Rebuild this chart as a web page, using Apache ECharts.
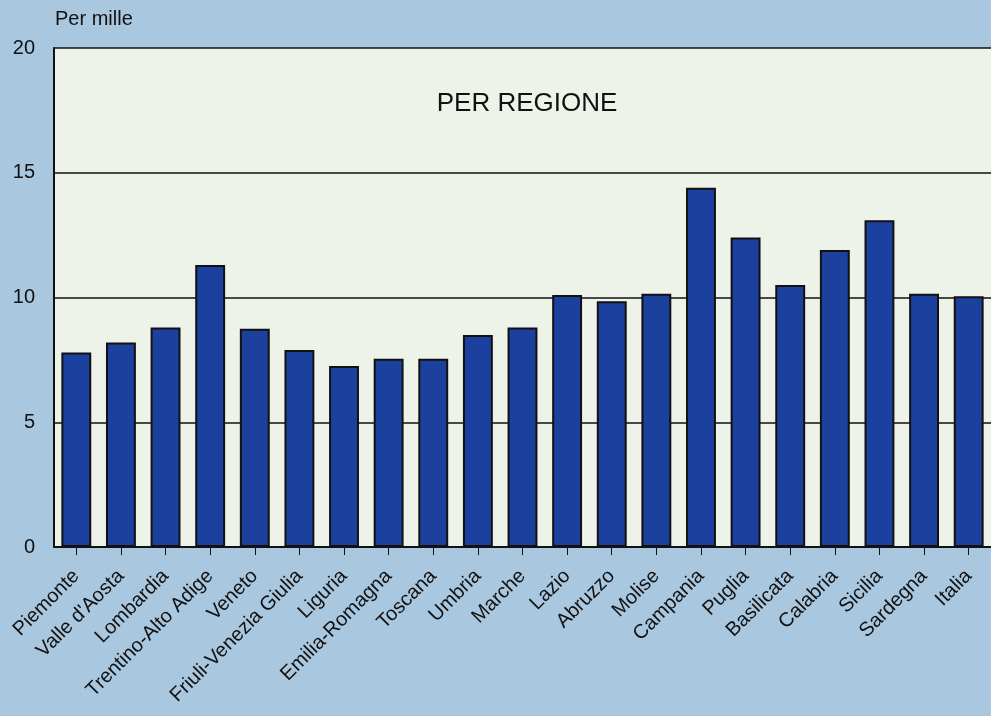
<!DOCTYPE html>
<html>
<head>
<meta charset="utf-8">
<script src="https://cdn.jsdelivr.net/npm/echarts@6/dist/echarts.min.js"></script>
<style>
html,body{margin:0;padding:0;background:#a9c7df;}
#c{width:991px;height:716px;}
</style>
</head>
<body>
<div id="c"></div>
<script>
const categories = ["Piemonte","Valle d'Aosta","Lombardia","Trentino-Alto Adige","Veneto","Friuli-Venezia Giulia","Liguria","Emilia-Romagna","Toscana","Umbria","Marche","Lazio","Abruzzo","Molise","Campania","Puglia","Basilicata","Calabria","Sicilia","Sardegna","Italia"];
const values = [7.8,8.2,8.8,11.3,8.75,7.9,7.25,7.55,7.55,8.5,8.8,10.1,9.85,10.15,14.4,12.4,10.5,11.9,13.1,10.15,10.05];
const yTicks = [0,5,10,15,20];

const chart = echarts.init(document.getElementById('c'));
chart.setOption({
  backgroundColor: '#a9c7df',
  animation: false,
  title: {
    text: 'PER REGIONE',
    left: 522, top: 86, textAlign: 'center',
    textStyle: {fontFamily: 'Liberation Sans', fontSize: 26, fontWeight: 'normal', color: '#111'}
  },
  graphic: [{
    type: 'text', left: 55, top: 9,
    style: {text: 'Per mille', fontFamily: 'Liberation Sans', fontSize: 20, fill: '#111'}
  }],
  grid: {
    left: 54, top: 48, width: 942, height: 499,
    show: true, backgroundColor: '#eef3ea', borderWidth: 0
  },
  xAxis: {
    type: 'category', data: categories,
    axisLine: {show: true, lineStyle: {color: '#111', width: 2}},
    axisTick: {show: true, alignWithLabel: true, length: 8, lineStyle: {color: '#111', width: 1}},
    axisLabel: {rotate: 45, interval: 0, fontFamily: 'Liberation Sans', fontSize: 20, color: '#111', margin: 26}
  },
  yAxis: {
    type: 'value', min: 0, max: 20, interval: 5,
    axisLine: {show: true, lineStyle: {color: '#111', width: 2}},
    axisTick: {show: false},
    axisLabel: {fontFamily: 'Liberation Sans', fontSize: 20, color: '#111', margin: 19,
      formatter: v => yTicks.includes(v) ? String(v) : ''},
    splitLine: {show: true, lineStyle: {color: '#111', width: 1.5}}
  },
  series: [{
    type: 'bar', data: values,
    barCategoryGap: '33%',
    itemStyle: {color: '#1b409e', borderColor: '#111', borderWidth: 2}
  }]
});
</script>
</body>
</html>
